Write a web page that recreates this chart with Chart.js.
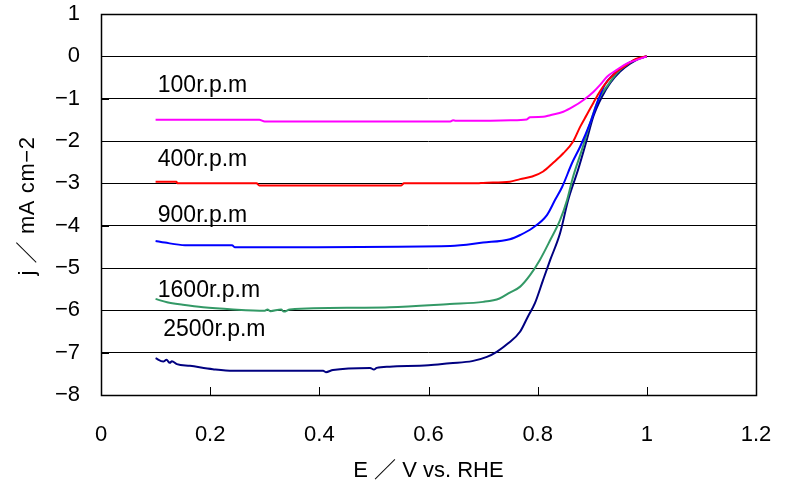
<!DOCTYPE html>
<html>
<head>
<meta charset="utf-8">
<script src="https://cdn.jsdelivr.net/npm/chart.js@4.4.0/dist/chart.umd.min.js"></script>
<style>
  html, body { margin: 0; padding: 0; background: #fff; }
  #wrap { width: 787px; height: 485px; }
</style>
</head>
<body>
<div id="wrap"><canvas id="rdeChart"></canvas></div>
<script>
// tick values
const xTicks = [0, 0.2, 0.4, 0.6, 0.8, 1, 1.2];
const yTicks = [1, 0, -1, -2, -3, -4, -5, -6, -7, -8];

// 100 rpm
const e100 = [0.10, 0.29, 0.30, 0.64, 0.645, 0.65, 0.70, 0.75, 0.78, 0.786, 0.81, 0.823, 0.847, 0.865, 0.884, 0.902, 0.914, 0.927, 0.945, 0.963, 0.98, 1.0];
const j100 = [-1.50, -1.50, -1.54, -1.54, -1.51, -1.52, -1.52, -1.51, -1.49, -1.44, -1.43, -1.39, -1.31, -1.19, -1.03, -0.84, -0.68, -0.48, -0.32, -0.17, -0.09, 0];

// 400 rpm
const e400 = [0.10, 0.138, 0.14, 0.285, 0.29, 0.55, 0.555, 0.69, 0.70, 0.749, 0.768, 0.79, 0.81, 0.828, 0.847, 0.865, 0.878, 0.89, 0.902, 0.914, 0.927, 0.945, 0.963, 0.98, 1.0];
const j400 = [-2.96, -2.96, -3.0, -3.0, -3.05, -3.05, -3.0, -3.0, -2.99, -2.96, -2.9, -2.84, -2.72, -2.52, -2.29, -2.01, -1.66, -1.38, -1.1, -0.83, -0.6, -0.36, -0.2, -0.06, 0];

// 900 rpm
const e900 = [0.10, 0.117, 0.154, 0.24, 0.245, 0.64, 0.70, 0.749, 0.768, 0.79, 0.817, 0.832, 0.845, 0.863, 0.878, 0.896, 0.911, 0.923, 0.938, 0.956, 0.975, 1.0];
const j900 = [-4.36, -4.40, -4.46, -4.46, -4.51, -4.48, -4.40, -4.32, -4.22, -4.06, -3.75, -3.39, -3.08, -2.52, -2.13, -1.58, -1.03, -0.67, -0.44, -0.24, -0.1, 0];

// 1600 rpm
const e1600 = [0.10, 0.121, 0.15, 0.187, 0.242, 0.30, 0.305, 0.31, 0.33, 0.335, 0.346, 0.469, 0.529, 0.639, 0.70, 0.73, 0.749, 0.768, 0.786, 0.804, 0.823, 0.841, 0.854, 0.865, 0.881, 0.896, 0.911, 0.927, 0.945, 0.963, 0.98, 1.0];
const j1600 = [-5.73, -5.81, -5.87, -5.93, -5.98, -6.01, -5.98, -6.02, -5.98, -6.03, -5.98, -5.94, -5.93, -5.85, -5.80, -5.72, -5.58, -5.44, -5.17, -4.81, -4.34, -3.87, -3.39, -2.84, -2.21, -1.58, -1.03, -0.71, -0.40, -0.2, -0.07, 0];

// 2500 rpm
const e2500 = [0.10, 0.114, 0.12, 0.126, 0.13, 0.139, 0.163, 0.205, 0.242, 0.407, 0.412, 0.425, 0.493, 0.50, 0.505, 0.529, 0.60, 0.639, 0.68, 0.707, 0.725, 0.746, 0.768, 0.782, 0.795, 0.81, 0.823, 0.841, 0.856, 0.874, 0.89, 0.902, 0.918, 0.933, 0.951, 0.97, 0.985, 1.0];
const j2500 = [-7.13, -7.21, -7.17, -7.24, -7.20, -7.27, -7.31, -7.39, -7.43, -7.43, -7.46, -7.41, -7.36, -7.40, -7.36, -7.33, -7.30, -7.25, -7.20, -7.10, -6.98, -6.78, -6.50, -6.15, -5.83, -5.28, -4.81, -4.18, -3.39, -2.68, -1.97, -1.42, -0.95, -0.63, -0.36, -0.17, -0.06, 0];

// series labels written inside the plot
const seriesNames = ["100r.p.m", "400r.p.m", "900r.p.m", "1600r.p.m", "2500r.p.m"];
const labelE = [0.104, 0.104, 0.104, 0.104, 0.114];
const labelJ = [-0.7, -2.45, -3.77, -5.54, -6.46];

const colors = ["#ff00ff", "#ff0000", "#0000ff", "#339966", "#000080"];
const FONT = "'Liberation Sans', 'Noto Sans CJK JP', sans-serif";

const toPoints = (xs, ys) => xs.map((x, i) => ({ x: x, y: ys[i] }));
const curves = [[e100, j100], [e400, j400], [e900, j900], [e1600, j1600], [e2500, j2500]];

const fmt = (v) => String(v).replace("-", "\u2212");

// frame, inward ticks, in-plot labels and axis titles
const decorations = {
  id: "decorations",
  afterDraw(chart) {
    const { ctx, chartArea: a, scales } = chart;
    const xs = scales.x, ys = scales.y;
    ctx.save();
    ctx.strokeStyle = "#000";
    ctx.lineWidth = 1;
    ctx.beginPath();
    xTicks.forEach((t) => {
      const px = Math.round(xs.getPixelForValue(t)) + 0.5;
      ctx.moveTo(px, a.bottom);
      ctx.lineTo(px, a.bottom - 8);
    });
    yTicks.forEach((t) => {
      const py = Math.round(ys.getPixelForValue(t)) + 0.5;
      ctx.moveTo(a.left, py);
      ctx.lineTo(a.left + 8, py);
    });
    ctx.stroke();
    ctx.lineWidth = 1.5;
    ctx.strokeRect(a.left + 0.5, a.top + 0.5, a.right - a.left, a.bottom - a.top);

    ctx.fillStyle = "#000";
    ctx.font = "23px " + FONT;
    ctx.textBaseline = "middle";
    ctx.textAlign = "left";
    seriesNames.forEach((name, i) => {
      ctx.fillText(name, xs.getPixelForValue(labelE[i]), ys.getPixelForValue(labelJ[i]));
    });

    ctx.font = "22px " + FONT;
    ctx.textAlign = "center";
    ctx.fillText("E \uff0f V vs. RHE", (a.left + a.right) / 2, 471);
    ctx.translate(28, 206);
    ctx.rotate(-Math.PI / 2);
    ctx.letterSpacing = "0.6px";
    ctx.fillText("j \uff0f mA cm\u22122", 0, 0);
    ctx.restore();
  },
};

const noPad = (s) => {
  s.paddingTop = 0;
  s.paddingBottom = 0;
  s.paddingLeft = 0;
  s.paddingRight = 0;
};

new Chart(document.getElementById("rdeChart"), {
  type: "scatter",
  data: {
    datasets: curves.map((c, i) => ({
      label: seriesNames[i],
      data: toPoints(c[0], c[1]),
      showLine: true,
      borderColor: colors[i],
      backgroundColor: colors[i],
      borderWidth: 2,
      pointRadius: 0,
      cubicInterpolationMode: "monotone",
    })),
  },
  options: {
    responsive: true,
    maintainAspectRatio: false,
    animation: false,
    layout: { padding: { top: 14, right: 31, left: 0, bottom: 0 } },
    plugins: {
      legend: { display: false },
      tooltip: { enabled: false },
    },
    scales: {
      x: {
        type: "linear",
        min: 0,
        max: 1.2,
        afterBuildTicks: (s) => { s.ticks = xTicks.map((v) => ({ value: v })); },
        afterFit: (s) => { s.height = 90; noPad(s); },
        grid: { display: false, drawTicks: false },
        border: { display: false },
        ticks: {
          padding: 27,
          color: "#000",
          font: { family: FONT, size: 22 },
          callback: (v) => fmt(v),
        },
      },
      y: {
        type: "linear",
        min: -8,
        max: 1,
        afterBuildTicks: (s) => { s.ticks = yTicks.map((v) => ({ value: v })); },
        afterFit: (s) => { s.width = 101; noPad(s); },
        grid: { color: "#000", lineWidth: 1, drawTicks: false },
        border: { display: false },
        ticks: {
          padding: 21,
          color: "#000",
          font: { family: FONT, size: 22 },
          callback: (v) => fmt(v),
        },
      },
    },
  },
  plugins: [decorations],
});
</script>
</body>
</html>
